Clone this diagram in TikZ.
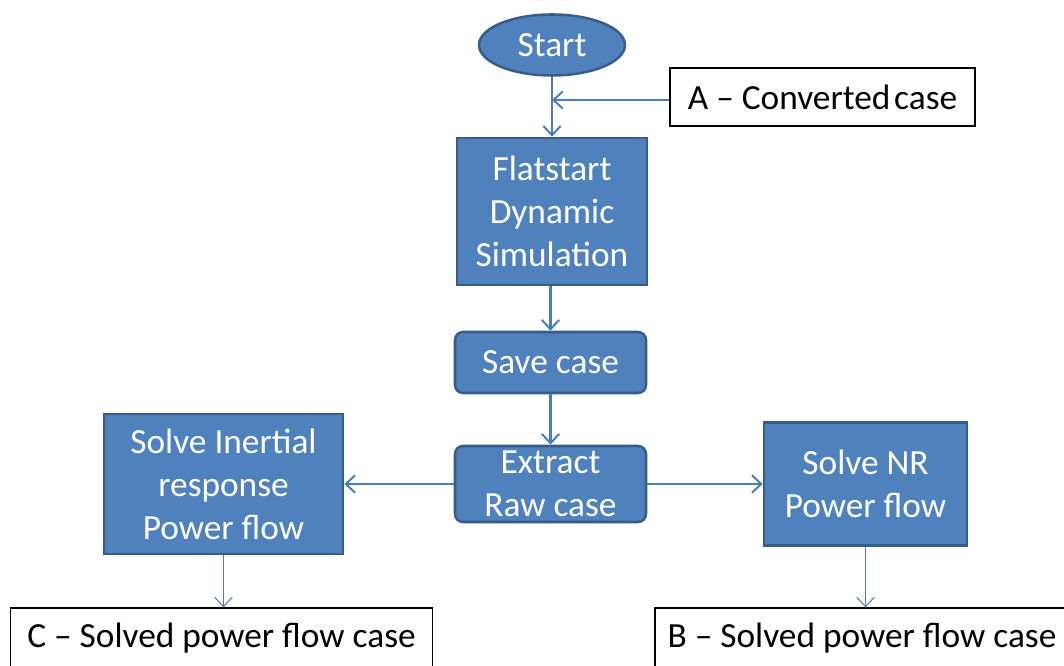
\documentclass[tikz,border=0pt]{standalone}
\usepackage{fontspec}
\setmainfont{Carlito}
\usetikzlibrary{arrows.meta,shapes.geometric}
\definecolor{boxfill}{HTML}{4F81BD}
\definecolor{boxedge}{HTML}{385D8A}
\definecolor{arrowc}{HTML}{4A7EBB}
\tikzset{
  txt/.style={font=\fontsize{26.5}{32.3}\selectfont},
  bluebox/.style={rectangle, fill=boxfill, draw=boxedge, line width=1.9pt, text=white, align=center, txt, inner sep=0pt},
  roundbox/.style={bluebox, rounded corners=6pt},
  outbox/.style={rectangle, draw=black, line width=0.8pt, fill=white, text=black, align=center, txt, inner sep=0pt},
  flow/.style={draw=arrowc, line width=1.9pt, -{Straight Barb[length=7pt,width=13pt,line width=1.5pt]}},
  thinflow/.style={draw=arrowc, line width=0.8pt, -{Straight Barb[length=7pt,width=13pt,line width=0.8pt]}},
}
\begin{document}
\begin{tikzpicture}[x=0.75pt,y=-0.75pt]
\useasboundingbox (0,0) rectangle (1064,666);
\clip (0,0) rectangle (1064,666);
% nodes
\node[ellipse, fill=boxfill, draw=boxedge, line width=1.9pt, text=white, txt, minimum width=146*0.75pt, minimum height=61*0.75pt, inner sep=0pt] (start) at (552,45) {Start};
\node[outbox, minimum width=305*0.75pt, minimum height=58*0.75pt] (A) at (822.5,97) {A – Converted\hspace{-0.12em} case};
\node[bluebox, minimum width=190*0.75pt, minimum height=147*0.75pt] (flat) at (552,211.5) {Flatstart\\Dynamic\\Simulation};
\node[roundbox, minimum width=191*0.75pt, minimum height=61*0.75pt] (save) at (550.5,362.5) {Save case};
\node[roundbox, minimum width=191*0.75pt, minimum height=76*0.75pt] (extract) at (550.5,484) {Extract\\Raw case};
\node[bluebox, minimum width=239*0.75pt, minimum height=140*0.75pt] (inert) at (223.5,484) {Solve Inertial\\response\\Power flow};
\node[bluebox, minimum width=203*0.75pt, minimum height=123*0.75pt] (nr) at (865.5,484) {Solve NR\\Power flow};
\node[outbox, minimum width=422*0.75pt, minimum height=60*0.75pt] (C) at (221.5,638) {C – Solved power flow case};
\node[outbox, minimum width=414*0.75pt, minimum height=60*0.75pt] (B) at (862,638) {B – Solved power flow case};
% connectors
\coordinate (join) at (552,100);
\draw[flow] (start.south) -- (flat.north);
\draw[flow] (A.west |- join) -- (join);
\draw[flow] (flat.south -| save.north) -- (save.north);
\draw[flow] (save.south) -- (extract.north);
\draw[flow] (extract.west) -- (inert.east);
\draw[flow] (extract.east) -- (nr.west);
\draw[thinflow] (inert.south) -- (C.north -| inert.south);
\draw[thinflow] (nr.south) -- (B.north -| nr.south);
\end{tikzpicture}
\end{document}
